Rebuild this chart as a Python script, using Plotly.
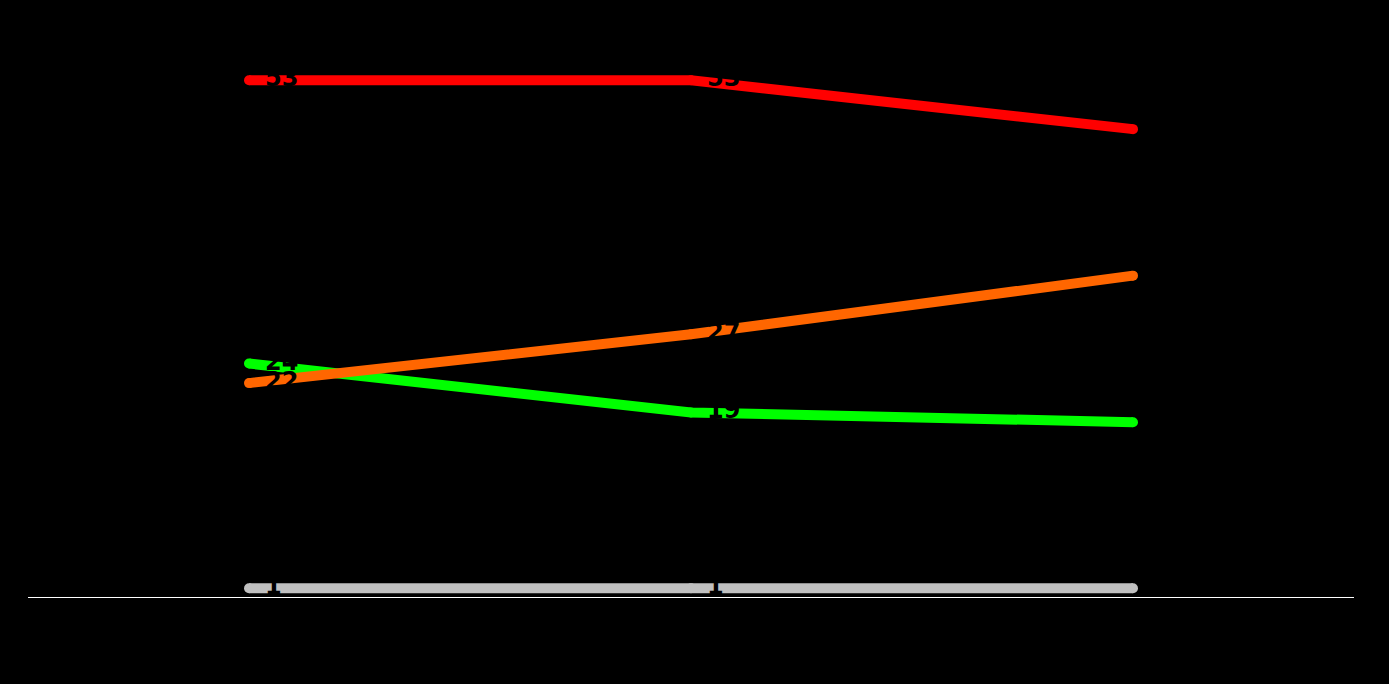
import plotly.graph_objects as go

categories = ["Period 1", "Period 2", "Period 3"]
series_names = ["Series A", "Series B", "Series C", "Series D"]
series_a = [53, 53, 48]
series_b = [22, 27, 33]
series_c = [24, 19, 18]
series_d = [1, 1, 1]
series_values = [series_a, series_b, series_c, series_d]
colors = ["#ff0000", "#ff6600", "#00ff00", "#c0c0c0"]

fig = go.Figure()
draw_order = [3, 2, 1, 0]
for i in draw_order:
    fig.add_trace(go.Scatter(
        x=categories, y=series_values[i], name=series_names[i],
        mode="lines+markers",
        line=dict(color=colors[i], width=10),
        marker=dict(color=colors[i], size=10),
        hoverinfo="skip", showlegend=False,
    ))
for i in draw_order:
    fig.add_trace(go.Scatter(
        x=categories, y=series_values[i], name=series_names[i],
        mode="markers+text",
        text=["<b>%d</b>" % v for v in series_values[i]],
        textposition="middle right",
        textfont=dict(color="black", size=24, family="DejaVu Sans"),
        marker=dict(color="rgba(0,0,0,0)", size=24),
        hoverinfo="skip", showlegend=False,
    ))

fig.update_layout(
    width=1373, height=668,
    paper_bgcolor="black", plot_bgcolor="black",
    margin=dict(l=20, r=27, t=43, b=78),
    font=dict(color="black", family="DejaVu Sans"),
    showlegend=False,
)
fig.update_xaxes(range=[-0.5, 2.5], showgrid=False, zeroline=False,
                 showline=False, tickfont=dict(color="black"))
fig.update_yaxes(range=[0, 56], showgrid=False, zeroline=False,
                 showline=False, showticklabels=False)
fig.add_shape(type="line", xref="paper", yref="y", x0=0, x1=1, y0=0, y1=0,
              line=dict(color="white", width=2), layer="below")

fig.write_html("out.html",
               post_script="document.body.style.background='black';")
